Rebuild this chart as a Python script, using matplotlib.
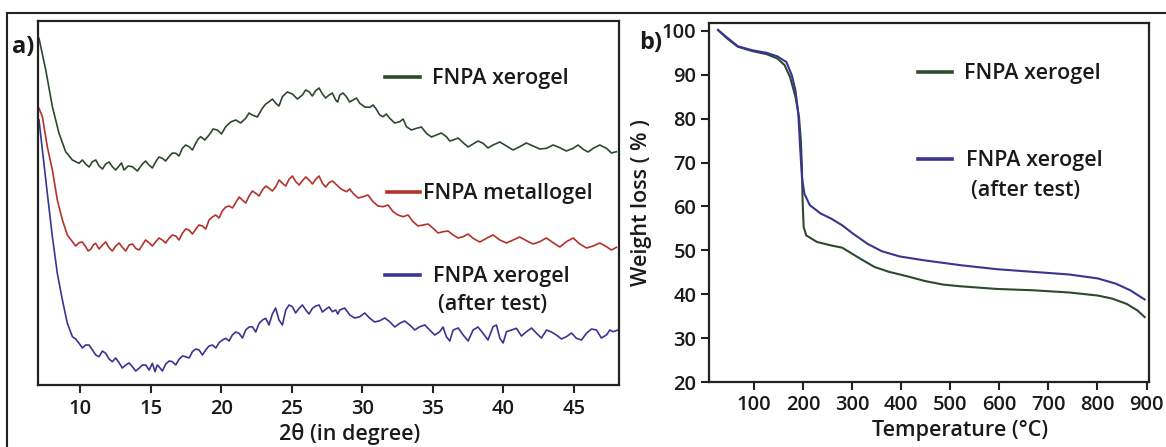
import matplotlib
matplotlib.use("Agg")
import matplotlib.pyplot as plt
from matplotlib.lines import Line2D

plt.rcParams['font.family'] = ['Open Sans', 'DejaVu Sans']

# ---------------- Panel a: XRD (intensity, arbitrary units) ----------------
# main trace points
xrd_green_x = [7.07, 7.55, 8.02, 8.49, 8.96, 9.44, 9.91, 10.38, 10.86, 11.33, 11.80, 12.27, 12.75,
               13.10, 13.69, 14.40, 14.87, 15.35, 15.82, 16.29, 16.77, 17.24, 17.71, 18.18, 18.54,
               19.13, 19.72, 20.31, 21.02, 21.73, 22.20, 22.91, 23.39, 23.86, 24.33, 25.04, 25.75,
               26.22, 26.69, 27.17, 27.64, 28.11, 28.40, 28.87, 29.34, 29.82, 30.53, 31.00, 31.47,
               31.94, 32.65, 33.13, 33.84, 34.54, 35.25, 35.96, 36.44, 37.15, 37.85, 38.56, 39.27,
               40.22, 41.16, 42.11, 43.06, 44.00, 44.95, 45.66, 46.37, 47.31, 48.02]
xrd_green_y = [346.7, 315, 278.3, 251.7, 233.3, 225, 221.7, 221, 223.3, 219, 221, 218.3, 219,
               215, 218.3, 221, 220, 223.3, 226.7, 228.3, 231.7, 236.7, 238.3, 241.7, 248.3,
               250, 255, 258.3, 265, 266.7, 270, 276.7, 283.3, 281.7, 288.3, 291, 290,
               293.3, 294.3, 291, 290, 285, 290, 288.3, 285, 281.7, 277.7, 275.7, 268.3,
               266.7, 263.3, 258.3, 256.7, 251.7, 250, 248.3, 245, 242.3, 241, 241.7, 240,
               239, 238.3, 239, 236.7, 237.3, 236.7, 235.7, 236.7, 236.7, 233.3]
# in-between wiggle points (noise)
xrd_green_nx = [10.15, 10.62, 11.10, 11.57, 12.04, 12.51, 12.92, 13.40, 14.05, 14.63, 15.11, 15.58,
                16.05, 16.53, 17.00, 17.47, 17.95, 18.36, 18.83, 19.42, 20.01, 20.66, 21.37, 21.96,
                22.55, 23.15, 23.62, 24.09, 24.68, 25.39, 25.98, 26.45, 26.93, 27.40, 27.87, 28.25,
                28.63, 29.10, 29.58, 30.17, 30.76, 31.23, 31.70, 32.30, 32.89, 33.48, 34.19, 34.90,
                35.60, 36.20, 36.79, 37.50, 38.20, 38.91, 39.75, 40.69, 41.63, 42.58, 43.53, 44.47,
                45.30, 46.01, 46.84, 47.66]
xrd_green_ny = [225, 218, 225, 216, 223, 215, 222, 219, 214, 224, 217, 228,
                224, 232, 229, 240, 235, 246, 245, 256, 251, 263, 262, 272,
                268, 281, 286, 279, 293, 286, 295, 289, 297, 287, 292, 283,
                292, 283, 287, 278, 280, 270, 271, 262, 266, 255, 258, 248,
                252, 244, 247, 238, 244, 237, 243, 235, 242, 236, 240, 234,
                240, 233, 240, 232]

xrd_red_x = [7.07, 7.31, 7.66, 8.02, 8.37, 8.73, 9.08, 9.44, 9.91, 10.38, 10.74, 11.09, 11.57,
             12.04, 12.51, 12.98, 13.46, 13.93, 14.40, 14.87, 15.35, 15.82, 16.29, 16.77, 17.24,
             17.71, 18.18, 18.66, 19.13, 19.60, 20.08, 20.55, 21.02, 21.49, 21.97, 22.44, 22.91,
             23.39, 23.86, 24.33, 24.80, 25.28, 25.75, 26.22, 26.69, 27.17, 27.64, 28.11, 28.87,
             29.34, 30.05, 30.76, 31.47, 32.18, 32.89, 33.60, 34.31, 35.02, 35.73, 36.44, 37.15,
             37.85, 38.80, 39.75, 40.69, 41.64, 42.58, 43.53, 44.47, 45.42, 46.37, 47.31, 48.02]
xrd_red_y = [276.7, 268.3, 238.3, 215, 185, 165, 150, 143.3, 142.3, 138.3, 135.7, 141.7, 140,
             137.3, 139, 137.7, 140, 136.7, 140, 142.3, 143.3, 145, 146.7, 149, 151.7,
             155, 155.7, 159, 165, 170, 174.3, 179, 182.3, 185, 189, 191.7, 195,
             196.7, 198.3, 201.7, 205.7, 203.3, 204.3, 205, 205.7, 201.7, 202.3, 201, 193.3,
             191.7, 188.3, 183.3, 178.3, 173.3, 168.3, 163.3, 160, 156.7, 153.3, 150, 148.3,
             146.7, 146.7, 145, 145, 144.3, 143.3, 142.3, 143.3, 141, 139, 138.3, 137.7]
xrd_red_nx = [9.67, 10.15, 10.56, 10.92, 11.33, 11.80, 12.27, 12.75, 13.22, 13.70, 14.17, 14.63,
              15.11, 15.58, 16.05, 16.53, 17.00, 17.47, 17.95, 18.42, 18.90, 19.37, 19.84, 20.32,
              20.79, 21.26, 21.73, 22.20, 22.68, 23.15, 23.62, 24.10, 24.57, 25.04, 25.52, 25.99,
              26.46, 26.93, 27.40, 27.88, 28.49, 29.10, 29.70, 30.40, 31.11, 31.82, 32.53, 33.24,
              33.95, 34.66, 35.37, 36.08, 36.79, 37.50, 38.33, 39.27, 40.22, 41.16, 42.11, 43.05,
              44.00, 44.95, 45.90, 46.84, 47.66]
xrd_red_ny = [139, 143, 134, 140, 136, 143, 134, 142, 134, 141, 135, 145,
              139, 147, 142, 150, 145, 156, 151, 160, 156, 168, 167, 178,
              177, 188, 182, 194, 189, 199, 194, 205, 199, 209, 200, 208,
              201, 209, 198, 204, 196, 196, 187, 190, 179, 180, 170, 170,
              159, 161, 152, 154, 147, 151, 143, 150, 142, 148, 141, 147,
              138, 147, 137, 142, 135]

xrd_blue_x = [7.07, 7.31, 7.66, 8.02, 8.37, 8.73, 9.08, 9.44, 9.91, 10.38, 10.86, 11.33, 11.80,
              12.27, 12.75, 13.22, 13.69, 14.17, 14.64, 15.11, 15.30, 15.58, 16.06, 16.53, 17.00,
              17.48, 17.95, 18.42, 18.89, 19.37, 19.84, 20.31, 20.78, 21.26, 21.73, 22.20, 22.68,
              23.15, 23.62, 24.09, 24.57, 25.04, 25.51, 25.99, 26.46, 26.93, 27.40, 27.88, 28.11,
              28.40, 29.11, 29.82, 30.53, 31.24, 31.94, 32.65, 33.36, 34.07, 34.78, 35.49, 35.96,
              36.44, 37.15, 37.85, 38.56, 39.27, 39.75, 40.22, 40.93, 41.64, 42.35, 43.06, 43.76,
              44.47, 45.18, 45.89, 46.60, 47.31, 47.78, 48.14]
xrd_blue_y = [265, 235, 191.7, 148.3, 111.7, 85, 61.7, 48.3, 41.7, 40, 35, 28.3, 31.7,
              23.3, 22.3, 20, 18.3, 16.7, 20, 21.7, 13.3, 18.3, 21, 23.3, 25.7,
              28.3, 33.3, 35, 35, 40, 42.3, 46.7, 50, 51.7, 55, 58.3, 61.7,
              66.7, 71, 65, 75, 78.3, 76.7, 75, 76.7, 80, 75.7, 73.3, 75,
              75, 70, 68.3, 66.7, 64.3, 63.3, 61.7, 60, 58.3, 55, 53.3, 48.3,
              55, 50, 55, 51.7, 58.3, 46.7, 53.3, 56.7, 53.3, 51.7, 55, 50,
              48.3, 46.7, 51.7, 55, 50, 53.3, 55]
xrd_blue_nx = [9.67, 10.15, 10.62, 11.10, 11.57, 12.04, 12.51, 12.98, 13.46, 13.93, 14.40, 14.88,
               15.45, 15.82, 16.30, 16.77, 17.24, 17.72, 18.19, 18.66, 19.13, 19.61, 20.08, 20.55,
               21.02, 21.50, 21.97, 22.44, 22.92, 23.38, 23.85, 24.33, 24.80, 25.27, 25.75, 26.22,
               26.70, 27.17, 27.64, 28.26, 28.75, 29.46, 30.17, 30.88, 31.59, 32.30, 33.00, 33.72,
               34.43, 35.13, 35.72, 36.20, 36.80, 37.50, 38.20, 38.91, 39.51, 39.98, 40.58, 41.28,
               42.00, 42.70, 43.41, 44.12, 44.83, 45.54, 46.25, 46.95, 47.55]
xrd_blue_ny = [46, 37, 40, 30, 34, 26, 27, 17, 22, 14, 20, 15,
               20, 14, 24, 20, 29, 27, 36, 30, 39, 37, 45, 44,
               53, 47, 58, 53, 65, 60, 77, 60, 80, 72, 80, 71,
               79, 73, 78, 71, 77, 67, 72, 63, 67, 58, 64, 55,
               60, 50, 58, 44, 57, 44, 58, 45, 60, 42, 55, 49,
               57, 47, 53, 46, 52, 45, 56, 47, 55]

xrd_xticks = [10, 15, 20, 25, 30, 35, 40, 45]
xrd_labels = ["FNPA xerogel", "FNPA metallogel", "FNPA xerogel\n(after test)"]

# ---------------- Panel b: TGA ----------------
tga_green_T = [26.4, 44.7, 66.7, 96.1, 125.4, 147.5, 162.1, 173.2, 184.2, 191.5, 195.2, 197.4,
               198.8, 201.0, 206.2, 228.2, 257.6, 279.6, 294.3, 316.3, 345.6, 375.0, 411.7,
               448.4, 485.1, 521.8, 595.2, 668.6, 742.0, 800.7, 830.1, 859.4, 881.5, 896.1]
tga_green_W = [100.2, 98.3, 96.4, 95.4, 94.7, 93.7, 92.2, 89.5, 85.0, 80.4, 75.0, 69.0,
               61.4, 55.3, 53.4, 51.9, 51.1, 50.6, 49.6, 48.1, 46.2, 45.1, 44.1,
               43.0, 42.2, 41.8, 41.2, 40.9, 40.4, 39.7, 39.0, 37.8, 36.3, 34.8]

tga_blue_T = [26.4, 44.7, 66.7, 96.1, 125.4, 147.5, 165.8, 176.8, 184.2, 190.0, 193.7, 197.4,
              202.5, 213.5, 235.5, 257.6, 279.6, 301.6, 331.0, 360.3, 397.0, 448.4, 521.8,
              595.2, 668.6, 742.0, 800.7, 837.4, 866.8, 896.1]
tga_blue_W = [100.2, 98.5, 96.5, 95.6, 95.0, 94.2, 92.9, 89.9, 86.5, 81.2, 73.6, 66.7,
              62.9, 60.3, 58.4, 57.2, 55.7, 53.8, 51.5, 49.8, 48.6, 47.7, 46.6,
              45.7, 45.1, 44.5, 43.6, 42.4, 40.9, 38.8]

tga_xticks = [100, 200, 300, 400, 500, 600, 700, 800, 900]
tga_yticks = [20, 30, 40, 50, 60, 70, 80, 90, 100]
tga_labels = ["FNPA xerogel", "FNPA xerogel\n(after test)"]

C_GREEN = "#2c4a2c"
C_RED = "#b3322b"
C_BLUE = "#3a3590"
C_AX = "#222222"
C_TXT = "#1a1a1a"


def merged(xa, ya, xb, yb):
    pts = sorted(zip(list(xa) + list(xb), list(ya) + list(yb)))
    return [p[0] for p in pts], [p[1] for p in pts]


W, H = 1166, 447
fig = plt.figure(figsize=(W / 100, H / 100), dpi=100)
fig.patch.set_facecolor("white")


def frac(l, t, r, b):
    return [l / W, 1 - b / H, (r - l) / W, (b - t) / H]


TICKFS = 14.5
LABFS = 15.5

# outer frame lines
fig.add_artist(Line2D([7 / W, 1.0], [1 - 12.5 / H, 1 - 12.5 / H], color=C_AX, lw=1.5,
                      transform=fig.transFigure))
fig.add_artist(Line2D([7 / W, 7 / W], [0, 1 - 12.5 / H], color=C_AX, lw=1.5,
                      transform=fig.transFigure))

# ---------- panel a ----------
axa = fig.add_axes(frac(38, 21, 619, 385))
for xs, ys, nxs, nys, c in [(xrd_green_x, xrd_green_y, xrd_green_nx, xrd_green_ny, C_GREEN),
                            (xrd_red_x, xrd_red_y, xrd_red_nx, xrd_red_ny, C_RED),
                            (xrd_blue_x, xrd_blue_y, xrd_blue_nx, xrd_blue_ny, C_BLUE)]:
    mx, my = merged(xs, ys, nxs, nys)
    axa.plot(mx, my, color=c, lw=1.2)
axa.set_xlim(7.0, 48.2)
axa.set_ylim(0, 364)
axa.set_xticks(xrd_xticks)
axa.set_yticks([])
axa.tick_params(axis="x", direction="out", length=6, width=1.5, color=C_AX,
                labelsize=TICKFS, pad=4, labelcolor=C_TXT)
for s in axa.spines.values():
    s.set_linewidth(1.6)
    s.set_color(C_AX)
for lab in axa.get_xticklabels():
    lab.set_fontweight("semibold")
axa.set_xlabel("2θ (in degree)", fontsize=LABFS, fontweight="semibold", color=C_TXT)
axa.xaxis.set_label_coords(0.537, -0.105)

leg_a = [((0.597, 0.657), 0.846, 0.678, C_GREEN, xrd_labels[0]),
         ((0.601, 0.657), 0.530, 0.663, C_RED, xrd_labels[1]),
         ((0.597, 0.657), 0.302, 0.680, C_BLUE, xrd_labels[2])]
for (x0, x1), yl, xt, c, t in leg_a:
    axa.add_line(Line2D([x0, x1], [yl, yl], color=c, lw=2.6, transform=axa.transAxes))
    lines = t.split("\n")
    axa.text(xt, yl - 0.004, lines[0], transform=axa.transAxes, fontsize=LABFS,
             fontweight="semibold", va="center", ha="left", color=C_TXT)
    if len(lines) > 1:
        axa.text(xt + 0.008, yl - 0.082, lines[1], transform=axa.transAxes, fontsize=LABFS,
                 fontweight="semibold", va="center", ha="left", color=C_TXT)

fig.text(12 / W, 1 - 47 / H, "a)", fontsize=17, fontweight="bold", va="center", ha="left",
         color=C_TXT)

# ---------- panel b ----------
axb = fig.add_axes(frac(709, 23, 1149, 382))
axb.plot(tga_green_T, tga_green_W, color=C_GREEN, lw=1.5)
axb.plot(tga_blue_T, tga_blue_W, color=C_BLUE, lw=1.5)
axb.set_xlim(8, 905)
axb.set_ylim(20, 101.8)
axb.set_xticks(tga_xticks)
axb.set_yticks(tga_yticks)
axb.tick_params(axis="both", direction="out", length=6, width=1.5, color=C_AX,
                labelsize=TICKFS, pad=3, labelcolor=C_TXT)
for s in axb.spines.values():
    s.set_linewidth(1.6)
    s.set_color(C_AX)
for lab in axb.get_xticklabels() + axb.get_yticklabels():
    lab.set_fontweight("semibold")
axb.set_xlabel("Temperature (°C)", fontsize=LABFS, fontweight="semibold", color=C_TXT)
axb.xaxis.set_label_coords(0.57, -0.105)
axb.set_ylabel("Weight loss ( % )", fontsize=LABFS, fontweight="semibold", color=C_TXT)
axb.yaxis.set_label_coords(-0.13, 0.5)

leg_b = [((0.474, 0.552), 0.864, 0.579, C_GREEN, tga_labels[0]),
         ((0.474, 0.552), 0.620, 0.583, C_BLUE, tga_labels[1])]
for (x0, x1), yl, xt, c, t in leg_b:
    axb.add_line(Line2D([x0, x1], [yl, yl], color=c, lw=2.6, transform=axb.transAxes))
    lines = t.split("\n")
    axb.text(xt, yl - 0.004, lines[0], transform=axb.transAxes, fontsize=LABFS,
             fontweight="semibold", va="center", ha="left", color=C_TXT)
    if len(lines) > 1:
        axb.text(xt + 0.013, yl - 0.086, lines[1], transform=axb.transAxes, fontsize=LABFS,
                 fontweight="semibold", va="center", ha="left", color=C_TXT)

fig.text(639 / W, 1 - 43 / H, "b)", fontsize=17, fontweight="bold", va="center", ha="left",
         color=C_TXT)

fig.savefig("out.png", dpi=100, facecolor="white")
